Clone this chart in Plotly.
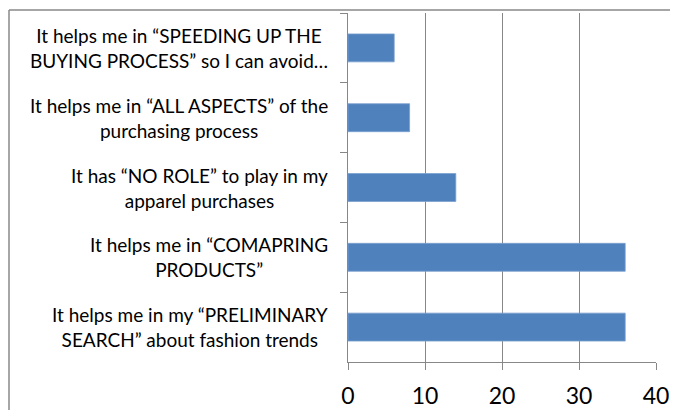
import plotly.graph_objects as go

categories = [
    "It helps me in “SPEEDING UP THE<br>BUYING PROCESS” so I can avoid…",
    "It helps me in “ALL ASPECTS” of the<br>purchasing process",
    "It has “NO ROLE” to play in my<br>apparel purchases",
    "It helps me in “COMAPRING<br>PRODUCTS”",
    "It helps me in my “PRELIMINARY<br>SEARCH” about fashion trends",
]
values = [6, 8, 14, 36, 36]
x_ticks = [0, 10, 20, 30, 40]

FONT = "Lato"

fig = go.Figure(
    go.Bar(
        y=categories,
        x=values,
        orientation="h",
        width=0.4,
        marker=dict(color="#4F81BD", line=dict(color="#7A9FCF", width=0.8)),
    )
)

for c in categories:
    fig.add_annotation(
        x=0, xref="paper", y=c, yref="y",
        text=c, showarrow=False, xanchor="right", yanchor="middle",
        xshift=-18, align="center",
        font=dict(family=FONT, size=19, color="#000000"),
    )

# outer chart frame (top and left edges visible)
fig.add_shape(type="line", xref="paper", yref="paper", xsizemode="pixel", ysizemode="pixel",
              xanchor=0, yanchor=1, x0=-339, x1=400, y0=3, y1=3,
              line=dict(color="#898989", width=1.5))
fig.add_shape(type="line", xref="paper", yref="paper", xsizemode="pixel", ysizemode="pixel",
              xanchor=0, yanchor=1, x0=-339, x1=-339, y0=3, y1=-500,
              line=dict(color="#898989", width=1.5))

fig.update_layout(
    width=670, height=410,
    margin=dict(l=340, r=22, t=5, b=56, autoexpand=False),
    paper_bgcolor="white", plot_bgcolor="white",
    showlegend=False,
    xaxis=dict(
        range=[0, 40], tickvals=x_ticks, ticktext=[str(v) for v in x_ticks],
        showgrid=True, gridcolor="#878787", gridwidth=1.3,
        showline=True, linecolor="#878787", linewidth=1.3,
        ticks="outside", ticklen=7, tickcolor="#878787", tickwidth=1.3,
        tickfont=dict(family=FONT, size=23, color="#000000"),
        ticklabelstandoff=6, automargin=False,
        zeroline=False, fixedrange=True,
    ),
    yaxis=dict(
        autorange="reversed", showticklabels=False, automargin=False,
        showgrid=False, showline=True, linecolor="#878787", linewidth=1.3,
        ticks="outside", ticklen=7, tickcolor="#878787", tickwidth=1.3,
        tickson="boundaries", fixedrange=True,
    ),
)

fig.write_html("out.html")
